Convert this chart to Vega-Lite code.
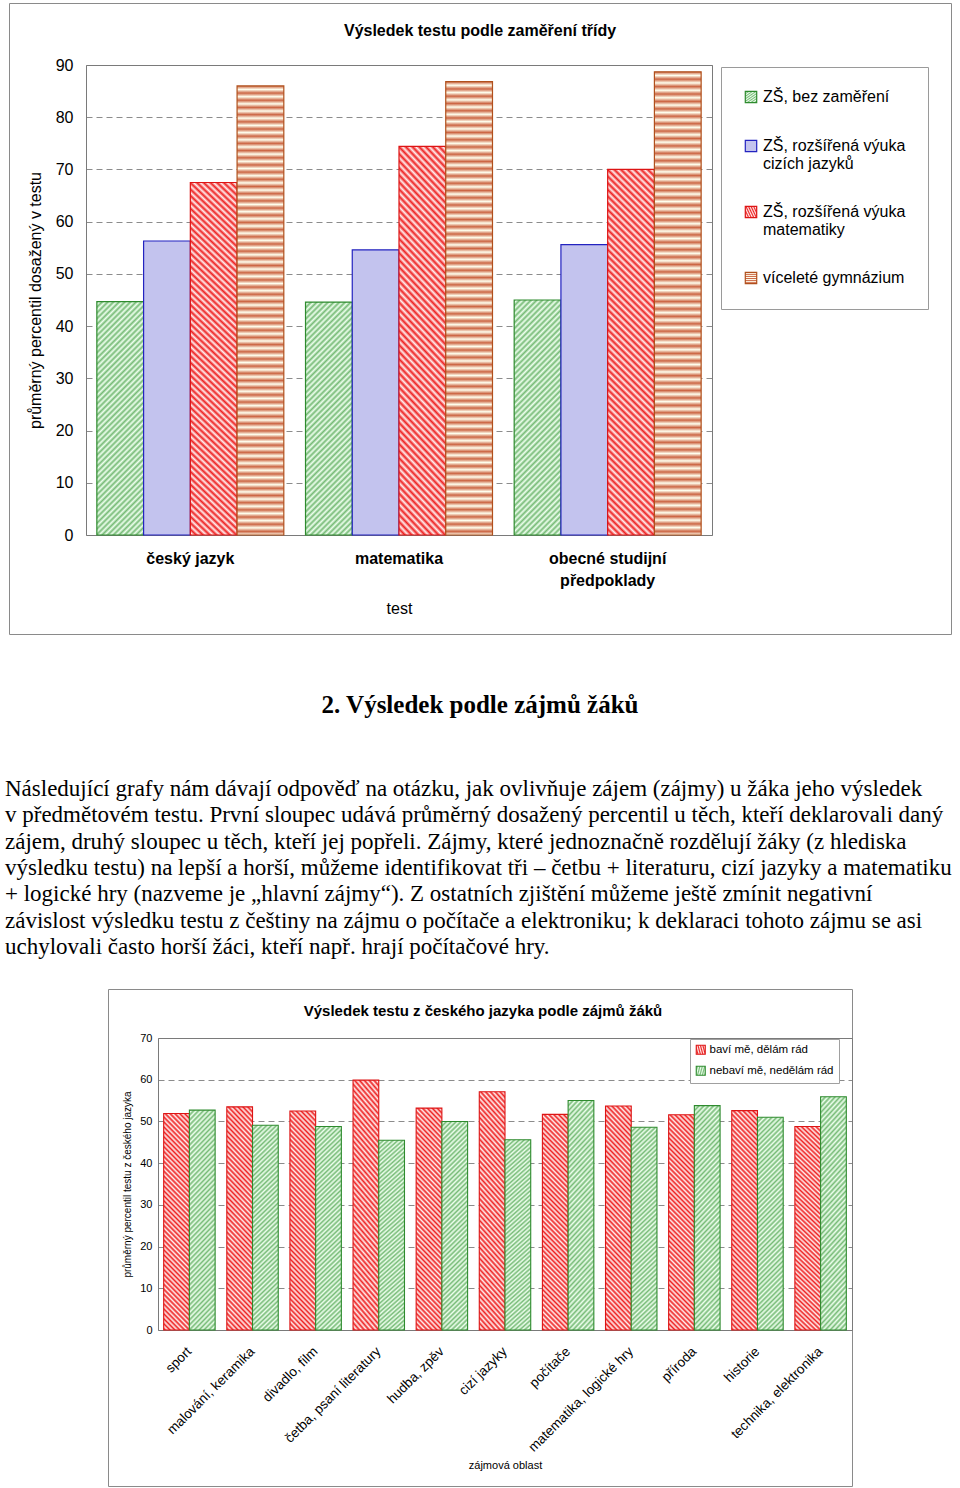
{
  "$schema": "https://vega.github.io/schema/vega-lite/v6.json",
  "background": "white",
  "padding": {"top": 2, "left": 0, "right": 0, "bottom": 3},
  "spacing": 29,
  "center": true,
  "bounds": "flush",
  "params": [
    {"name": "stG", "expr": "[{offset:0,color:'#7b7'},{offset:0.01,color:'#efe'},{offset:0.02,color:'#7b7'},{offset:0.03,color:'#efe'},{offset:0.04,color:'#7b7'},{offset:0.05,color:'#efe'},{offset:0.06,color:'#7b7'},{offset:0.07,color:'#efe'},{offset:0.08,color:'#7b7'},{offset:0.09,color:'#efe'},{offset:0.1,color:'#7b7'},{offset:0.11,color:'#efe'},{offset:0.12,color:'#7b7'},{offset:0.13,color:'#efe'},{offset:0.14,color:'#7b7'},{offset:0.15,color:'#efe'},{offset:0.16,color:'#7b7'},{offset:0.17,color:'#efe'},{offset:0.18,color:'#7b7'},{offset:0.19,color:'#efe'},{offset:0.2,color:'#7b7'},{offset:0.21,color:'#efe'},{offset:0.22,color:'#7b7'},{offset:0.23,color:'#efe'},{offset:0.24,color:'#7b7'},{offset:0.25,color:'#efe'},{offset:0.26,color:'#7b7'},{offset:0.27,color:'#efe'},{offset:0.28,color:'#7b7'},{offset:0.29,color:'#efe'},{offset:0.3,color:'#7b7'},{offset:0.31,color:'#efe'},{offset:0.32,color:'#7b7'},{offset:0.33,color:'#efe'},{offset:0.34,color:'#7b7'},{offset:0.35,color:'#efe'},{offset:0.36,color:'#7b7'},{offset:0.37,color:'#efe'},{offset:0.38,color:'#7b7'},{offset:0.39,color:'#efe'},{offset:0.4,color:'#7b7'},{offset:0.41,color:'#efe'},{offset:0.42,color:'#7b7'},{offset:0.43,color:'#efe'},{offset:0.44,color:'#7b7'},{offset:0.45,color:'#efe'},{offset:0.46,color:'#7b7'},{offset:0.47,color:'#efe'},{offset:0.48,color:'#7b7'},{offset:0.49,color:'#efe'},{offset:0.5,color:'#7b7'},{offset:0.51,color:'#efe'},{offset:0.52,color:'#7b7'},{offset:0.53,color:'#efe'},{offset:0.54,color:'#7b7'},{offset:0.55,color:'#efe'},{offset:0.56,color:'#7b7'},{offset:0.57,color:'#efe'},{offset:0.58,color:'#7b7'},{offset:0.59,color:'#efe'},{offset:0.6,color:'#7b7'},{offset:0.61,color:'#efe'},{offset:0.62,color:'#7b7'},{offset:0.63,color:'#efe'},{offset:0.64,color:'#7b7'},{offset:0.65,color:'#efe'},{offset:0.66,color:'#7b7'},{offset:0.67,color:'#efe'},{offset:0.68,color:'#7b7'},{offset:0.69,color:'#efe'},{offset:0.7,color:'#7b7'},{offset:0.71,color:'#efe'},{offset:0.72,color:'#7b7'},{offset:0.73,color:'#efe'},{offset:0.74,color:'#7b7'},{offset:0.75,color:'#efe'},{offset:0.76,color:'#7b7'},{offset:0.77,color:'#efe'},{offset:0.78,color:'#7b7'},{offset:0.79,color:'#efe'},{offset:0.8,color:'#7b7'},{offset:0.81,color:'#efe'},{offset:0.82,color:'#7b7'},{offset:0.83,color:'#efe'},{offset:0.84,color:'#7b7'},{offset:0.85,color:'#efe'},{offset:0.86,color:'#7b7'},{offset:0.87,color:'#efe'},{offset:0.88,color:'#7b7'},{offset:0.89,color:'#efe'},{offset:0.9,color:'#7b7'},{offset:0.91,color:'#efe'},{offset:0.92,color:'#7b7'},{offset:0.93,color:'#efe'},{offset:0.94,color:'#7b7'},{offset:0.95,color:'#efe'},{offset:0.96,color:'#7b7'},{offset:0.97,color:'#efe'},{offset:0.98,color:'#7b7'},{offset:0.99,color:'#efe'},{offset:1,color:'#7b7'}]"},
    {"name": "stR", "expr": "[{offset:0,color:'#e22'},{offset:0.01,color:'#fee'},{offset:0.02,color:'#e22'},{offset:0.03,color:'#fee'},{offset:0.04,color:'#e22'},{offset:0.05,color:'#fee'},{offset:0.06,color:'#e22'},{offset:0.07,color:'#fee'},{offset:0.08,color:'#e22'},{offset:0.09,color:'#fee'},{offset:0.1,color:'#e22'},{offset:0.11,color:'#fee'},{offset:0.12,color:'#e22'},{offset:0.13,color:'#fee'},{offset:0.14,color:'#e22'},{offset:0.15,color:'#fee'},{offset:0.16,color:'#e22'},{offset:0.17,color:'#fee'},{offset:0.18,color:'#e22'},{offset:0.19,color:'#fee'},{offset:0.2,color:'#e22'},{offset:0.21,color:'#fee'},{offset:0.22,color:'#e22'},{offset:0.23,color:'#fee'},{offset:0.24,color:'#e22'},{offset:0.25,color:'#fee'},{offset:0.26,color:'#e22'},{offset:0.27,color:'#fee'},{offset:0.28,color:'#e22'},{offset:0.29,color:'#fee'},{offset:0.3,color:'#e22'},{offset:0.31,color:'#fee'},{offset:0.32,color:'#e22'},{offset:0.33,color:'#fee'},{offset:0.34,color:'#e22'},{offset:0.35,color:'#fee'},{offset:0.36,color:'#e22'},{offset:0.37,color:'#fee'},{offset:0.38,color:'#e22'},{offset:0.39,color:'#fee'},{offset:0.4,color:'#e22'},{offset:0.41,color:'#fee'},{offset:0.42,color:'#e22'},{offset:0.43,color:'#fee'},{offset:0.44,color:'#e22'},{offset:0.45,color:'#fee'},{offset:0.46,color:'#e22'},{offset:0.47,color:'#fee'},{offset:0.48,color:'#e22'},{offset:0.49,color:'#fee'},{offset:0.5,color:'#e22'},{offset:0.51,color:'#fee'},{offset:0.52,color:'#e22'},{offset:0.53,color:'#fee'},{offset:0.54,color:'#e22'},{offset:0.55,color:'#fee'},{offset:0.56,color:'#e22'},{offset:0.57,color:'#fee'},{offset:0.58,color:'#e22'},{offset:0.59,color:'#fee'},{offset:0.6,color:'#e22'},{offset:0.61,color:'#fee'},{offset:0.62,color:'#e22'},{offset:0.63,color:'#fee'},{offset:0.64,color:'#e22'},{offset:0.65,color:'#fee'},{offset:0.66,color:'#e22'},{offset:0.67,color:'#fee'},{offset:0.68,color:'#e22'},{offset:0.69,color:'#fee'},{offset:0.7,color:'#e22'},{offset:0.71,color:'#fee'},{offset:0.72,color:'#e22'},{offset:0.73,color:'#fee'},{offset:0.74,color:'#e22'},{offset:0.75,color:'#fee'},{offset:0.76,color:'#e22'},{offset:0.77,color:'#fee'},{offset:0.78,color:'#e22'},{offset:0.79,color:'#fee'},{offset:0.8,color:'#e22'},{offset:0.81,color:'#fee'},{offset:0.82,color:'#e22'},{offset:0.83,color:'#fee'},{offset:0.84,color:'#e22'},{offset:0.85,color:'#fee'},{offset:0.86,color:'#e22'},{offset:0.87,color:'#fee'},{offset:0.88,color:'#e22'},{offset:0.89,color:'#fee'},{offset:0.9,color:'#e22'},{offset:0.91,color:'#fee'},{offset:0.92,color:'#e22'},{offset:0.93,color:'#fee'},{offset:0.94,color:'#e22'},{offset:0.95,color:'#fee'},{offset:0.96,color:'#e22'},{offset:0.97,color:'#fee'},{offset:0.98,color:'#e22'},{offset:0.99,color:'#fee'},{offset:1,color:'#e22'}]"},
    {"name": "stR8", "expr": "[{offset:0,color:'#e22'},{offset:0.008,color:'#fee'},{offset:0.016,color:'#e22'},{offset:0.024,color:'#fee'},{offset:0.032,color:'#e22'},{offset:0.04,color:'#fee'},{offset:0.048,color:'#e22'},{offset:0.056,color:'#fee'},{offset:0.064,color:'#e22'},{offset:0.072,color:'#fee'},{offset:0.08,color:'#e22'},{offset:0.088,color:'#fee'},{offset:0.096,color:'#e22'},{offset:0.104,color:'#fee'},{offset:0.112,color:'#e22'},{offset:0.12,color:'#fee'},{offset:0.128,color:'#e22'},{offset:0.136,color:'#fee'},{offset:0.144,color:'#e22'},{offset:0.152,color:'#fee'},{offset:0.16,color:'#e22'},{offset:0.168,color:'#fee'},{offset:0.176,color:'#e22'},{offset:0.184,color:'#fee'},{offset:0.192,color:'#e22'},{offset:0.2,color:'#fee'},{offset:0.208,color:'#e22'},{offset:0.216,color:'#fee'},{offset:0.224,color:'#e22'},{offset:0.232,color:'#fee'},{offset:0.24,color:'#e22'},{offset:0.248,color:'#fee'},{offset:0.256,color:'#e22'},{offset:0.264,color:'#fee'},{offset:0.272,color:'#e22'},{offset:0.28,color:'#fee'},{offset:0.288,color:'#e22'},{offset:0.296,color:'#fee'},{offset:0.304,color:'#e22'},{offset:0.312,color:'#fee'},{offset:0.32,color:'#e22'},{offset:0.328,color:'#fee'},{offset:0.336,color:'#e22'},{offset:0.344,color:'#fee'},{offset:0.352,color:'#e22'},{offset:0.36,color:'#fee'},{offset:0.368,color:'#e22'},{offset:0.376,color:'#fee'},{offset:0.384,color:'#e22'},{offset:0.392,color:'#fee'},{offset:0.4,color:'#e22'},{offset:0.408,color:'#fee'},{offset:0.416,color:'#e22'},{offset:0.424,color:'#fee'},{offset:0.432,color:'#e22'},{offset:0.44,color:'#fee'},{offset:0.448,color:'#e22'},{offset:0.456,color:'#fee'},{offset:0.464,color:'#e22'},{offset:0.472,color:'#fee'},{offset:0.48,color:'#e22'},{offset:0.488,color:'#fee'},{offset:0.496,color:'#e22'},{offset:0.504,color:'#fee'},{offset:0.512,color:'#e22'},{offset:0.52,color:'#fee'},{offset:0.528,color:'#e22'},{offset:0.536,color:'#fee'},{offset:0.544,color:'#e22'},{offset:0.552,color:'#fee'},{offset:0.56,color:'#e22'},{offset:0.568,color:'#fee'},{offset:0.576,color:'#e22'},{offset:0.584,color:'#fee'},{offset:0.592,color:'#e22'},{offset:0.6,color:'#fee'},{offset:0.608,color:'#e22'},{offset:0.616,color:'#fee'},{offset:0.624,color:'#e22'},{offset:0.632,color:'#fee'},{offset:0.64,color:'#e22'},{offset:0.648,color:'#fee'},{offset:0.656,color:'#e22'},{offset:0.664,color:'#fee'},{offset:0.672,color:'#e22'},{offset:0.68,color:'#fee'},{offset:0.688,color:'#e22'},{offset:0.696,color:'#fee'},{offset:0.704,color:'#e22'},{offset:0.712,color:'#fee'},{offset:0.72,color:'#e22'},{offset:0.728,color:'#fee'},{offset:0.736,color:'#e22'},{offset:0.744,color:'#fee'},{offset:0.752,color:'#e22'},{offset:0.76,color:'#fee'},{offset:0.768,color:'#e22'},{offset:0.776,color:'#fee'},{offset:0.784,color:'#e22'},{offset:0.792,color:'#fee'},{offset:0.8,color:'#e22'},{offset:0.808,color:'#fee'},{offset:0.816,color:'#e22'},{offset:0.824,color:'#fee'},{offset:0.832,color:'#e22'},{offset:0.84,color:'#fee'},{offset:0.848,color:'#e22'},{offset:0.856,color:'#fee'},{offset:0.864,color:'#e22'},{offset:0.872,color:'#fee'},{offset:0.88,color:'#e22'},{offset:0.888,color:'#fee'},{offset:0.896,color:'#e22'},{offset:0.904,color:'#fee'},{offset:0.912,color:'#e22'},{offset:0.92,color:'#fee'},{offset:0.928,color:'#e22'},{offset:0.936,color:'#fee'},{offset:0.944,color:'#e22'},{offset:0.952,color:'#fee'},{offset:0.96,color:'#e22'},{offset:0.968,color:'#fee'},{offset:0.976,color:'#e22'},{offset:0.984,color:'#fee'},{offset:0.992,color:'#e22'},{offset:1,color:'#fee'}]"},
    {"name": "stB8", "expr": "[{offset:0,color:'#c64'},{offset:0.008,color:'#ffe'},{offset:0.016,color:'#c64'},{offset:0.024,color:'#ffe'},{offset:0.032,color:'#c64'},{offset:0.04,color:'#ffe'},{offset:0.048,color:'#c64'},{offset:0.056,color:'#ffe'},{offset:0.064,color:'#c64'},{offset:0.072,color:'#ffe'},{offset:0.08,color:'#c64'},{offset:0.088,color:'#ffe'},{offset:0.096,color:'#c64'},{offset:0.104,color:'#ffe'},{offset:0.112,color:'#c64'},{offset:0.12,color:'#ffe'},{offset:0.128,color:'#c64'},{offset:0.136,color:'#ffe'},{offset:0.144,color:'#c64'},{offset:0.152,color:'#ffe'},{offset:0.16,color:'#c64'},{offset:0.168,color:'#ffe'},{offset:0.176,color:'#c64'},{offset:0.184,color:'#ffe'},{offset:0.192,color:'#c64'},{offset:0.2,color:'#ffe'},{offset:0.208,color:'#c64'},{offset:0.216,color:'#ffe'},{offset:0.224,color:'#c64'},{offset:0.232,color:'#ffe'},{offset:0.24,color:'#c64'},{offset:0.248,color:'#ffe'},{offset:0.256,color:'#c64'},{offset:0.264,color:'#ffe'},{offset:0.272,color:'#c64'},{offset:0.28,color:'#ffe'},{offset:0.288,color:'#c64'},{offset:0.296,color:'#ffe'},{offset:0.304,color:'#c64'},{offset:0.312,color:'#ffe'},{offset:0.32,color:'#c64'},{offset:0.328,color:'#ffe'},{offset:0.336,color:'#c64'},{offset:0.344,color:'#ffe'},{offset:0.352,color:'#c64'},{offset:0.36,color:'#ffe'},{offset:0.368,color:'#c64'},{offset:0.376,color:'#ffe'},{offset:0.384,color:'#c64'},{offset:0.392,color:'#ffe'},{offset:0.4,color:'#c64'},{offset:0.408,color:'#ffe'},{offset:0.416,color:'#c64'},{offset:0.424,color:'#ffe'},{offset:0.432,color:'#c64'},{offset:0.44,color:'#ffe'},{offset:0.448,color:'#c64'},{offset:0.456,color:'#ffe'},{offset:0.464,color:'#c64'},{offset:0.472,color:'#ffe'},{offset:0.48,color:'#c64'},{offset:0.488,color:'#ffe'},{offset:0.496,color:'#c64'},{offset:0.504,color:'#ffe'},{offset:0.512,color:'#c64'},{offset:0.52,color:'#ffe'},{offset:0.528,color:'#c64'},{offset:0.536,color:'#ffe'},{offset:0.544,color:'#c64'},{offset:0.552,color:'#ffe'},{offset:0.56,color:'#c64'},{offset:0.568,color:'#ffe'},{offset:0.576,color:'#c64'},{offset:0.584,color:'#ffe'},{offset:0.592,color:'#c64'},{offset:0.6,color:'#ffe'},{offset:0.608,color:'#c64'},{offset:0.616,color:'#ffe'},{offset:0.624,color:'#c64'},{offset:0.632,color:'#ffe'},{offset:0.64,color:'#c64'},{offset:0.648,color:'#ffe'},{offset:0.656,color:'#c64'},{offset:0.664,color:'#ffe'},{offset:0.672,color:'#c64'},{offset:0.68,color:'#ffe'},{offset:0.688,color:'#c64'},{offset:0.696,color:'#ffe'},{offset:0.704,color:'#c64'},{offset:0.712,color:'#ffe'},{offset:0.72,color:'#c64'},{offset:0.728,color:'#ffe'},{offset:0.736,color:'#c64'},{offset:0.744,color:'#ffe'},{offset:0.752,color:'#c64'},{offset:0.76,color:'#ffe'},{offset:0.768,color:'#c64'},{offset:0.776,color:'#ffe'},{offset:0.784,color:'#c64'},{offset:0.792,color:'#ffe'},{offset:0.8,color:'#c64'},{offset:0.808,color:'#ffe'},{offset:0.816,color:'#c64'},{offset:0.824,color:'#ffe'},{offset:0.832,color:'#c64'},{offset:0.84,color:'#ffe'},{offset:0.848,color:'#c64'},{offset:0.856,color:'#ffe'},{offset:0.864,color:'#c64'},{offset:0.872,color:'#ffe'},{offset:0.88,color:'#c64'},{offset:0.888,color:'#ffe'},{offset:0.896,color:'#c64'},{offset:0.904,color:'#ffe'},{offset:0.912,color:'#c64'},{offset:0.92,color:'#ffe'},{offset:0.928,color:'#c64'},{offset:0.936,color:'#ffe'},{offset:0.944,color:'#c64'},{offset:0.952,color:'#ffe'},{offset:0.96,color:'#c64'},{offset:0.968,color:'#ffe'},{offset:0.976,color:'#c64'},{offset:0.984,color:'#ffe'},{offset:0.992,color:'#c64'},{offset:1,color:'#ffe'}]"}
  ],
  "resolve": {
    "scale": {"x": "independent", "y": "independent", "xOffset": "independent", "fill": "independent", "stroke": "independent"},
    "legend": {"fill": "independent", "stroke": "independent"}
  },
  "config": {"font": "Liberation Sans", "view": {"stroke": null}},
  "vconcat": [
    {
      "width": 942,
      "height": 631,
      "view": {"stroke": "#8a8a8a", "strokeWidth": 1, "fill": "white"},
      "title": {"text": "Výsledek testu podle zaměření třídy", "font": "Liberation Sans", "fontSize": 16, "fontWeight": "bold", "color": "black", "anchor": "middle", "frame": "group", "baseline": "middle", "offset": -44},
      "data": {"values": [
        {"test": "český jazyk", "skupina": "ZŠ, bez zaměření", "percentil": 44.7},
        {"test": "český jazyk", "skupina": "ZŠ, rozšířená výuka cizích jazyků", "percentil": 56.3},
        {"test": "český jazyk", "skupina": "ZŠ, rozšířená výuka matematiky", "percentil": 67.5},
        {"test": "český jazyk", "skupina": "víceleté gymnázium", "percentil": 86.0},
        {"test": "matematika", "skupina": "ZŠ, bez zaměření", "percentil": 44.6},
        {"test": "matematika", "skupina": "ZŠ, rozšířená výuka cizích jazyků", "percentil": 54.6},
        {"test": "matematika", "skupina": "ZŠ, rozšířená výuka matematiky", "percentil": 74.4},
        {"test": "matematika", "skupina": "víceleté gymnázium", "percentil": 86.8},
        {"test": "obecné studijní předpoklady", "skupina": "ZŠ, bez zaměření", "percentil": 45.0},
        {"test": "obecné studijní předpoklady", "skupina": "ZŠ, rozšířená výuka cizích jazyků", "percentil": 55.6},
        {"test": "obecné studijní předpoklady", "skupina": "ZŠ, rozšířená výuka matematiky", "percentil": 70.0},
        {"test": "obecné studijní předpoklady", "skupina": "víceleté gymnázium", "percentil": 88.7}
      ]},
      "layer": [
        {
          "mark": {"type": "bar", "strokeWidth": 1.2},
          "encoding": {
            "x": {"field": "test", "type": "nominal", "sort": ["český jazyk", "matematika", "obecné studijní předpoklady"],
              "scale": {"range": [77, 703], "paddingInner": 0.104, "paddingOuter": 0.052},
              "axis": {"orient": "bottom", "offset": -99, "domain": true, "domainColor": "#7a7a7a", "ticks": false, "grid": false, "labelAngle": 0, "labelPadding": 15, "labelFont": "Liberation Sans", "labelFontSize": 16, "labelFontWeight": "bold", "labelColor": "black", "labelLineHeight": 22, "labelExpr": "datum.label == 'obecné studijní předpoklady' ? ['obecné studijní', 'předpoklady'] : datum.label", "title": "test", "titleFont": "Liberation Sans", "titleFontSize": 16, "titleFontWeight": "normal", "titleColor": "black", "titlePadding": 12}},
            "xOffset": {"field": "skupina", "type": "nominal", "sort": ["ZŠ, bez zaměření", "ZŠ, rozšířená výuka cizích jazyků", "ZŠ, rozšířená výuka matematiky", "víceleté gymnázium"]},
            "y": {"field": "percentil", "type": "quantitative",
              "scale": {"domain": [0, 90], "range": [532, 62], "nice": false},
              "axis": {"orient": "left", "offset": -77, "values": [0, 10, 20, 30, 40, 50, 60, 70, 80, 90], "grid": true, "gridDash": [6, 4], "gridColor": "#8c8c8c", "domain": true, "domainColor": "#7a7a7a", "ticks": false, "labelPadding": 13, "labelFont": "Liberation Sans", "labelFontSize": 16, "labelColor": "black", "title": "průměrný percentil dosažený v testu", "titleFont": "Liberation Sans", "titleFontSize": 16, "titleFontWeight": "normal", "titleColor": "black", "titlePadding": 12}},
            "fill": {"field": "skupina", "type": "nominal",
              "scale": {"domain": ["ZŠ, bez zaměření", "ZŠ, rozšířená výuka cizích jazyků", "ZŠ, rozšířená výuka matematiky", "víceleté gymnázium"],
                "range": [
                  {"expr": "{gradient:'linear',x1:0,y1:0,x2:0.235,y2:1.17,stops:stG}"},
                  "#c3c3ee",
                  {"expr": "{gradient:'linear',x1:1,y1:0,x2:0.858,y2:1.12,stops:stR8}"},
                  {"expr": "{gradient:'linear',x1:0,y1:0,x2:0,y2:1,stops:stB8}"}
                ]},
              "legend": {"title": null, "orient": "none", "legendX": 712, "legendY": 64, "padding": 22, "strokeColor": "#9a9a9a", "fillColor": "white", "labelFont": "Liberation Sans", "labelFontSize": 16, "labelColor": "black", "labelLineHeight": 20, "symbolType": "square", "symbolSize": 130, "symbolStrokeWidth": 1.2, "rowPadding": 31, "labelOffset": 4, "labelLimit": 300, "labelExpr": "datum.label == 'ZŠ, rozšířená výuka cizích jazyků' ? ['ZŠ, rozšířená výuka', 'cizích jazyků'] : datum.label == 'ZŠ, rozšířená výuka matematiky' ? ['ZŠ, rozšířená výuka', 'matematiky'] : datum.label"}},
            "stroke": {"field": "skupina", "type": "nominal",
              "scale": {"domain": ["ZŠ, bez zaměření", "ZŠ, rozšířená výuka cizích jazyků", "ZŠ, rozšířená výuka matematiky", "víceleté gymnázium"], "range": ["#2e8b2e", "#2323c0", "#dd1414", "#b0501c"]},
              "legend": {"title": null, "orient": "none", "legendX": 712, "legendY": 64, "padding": 22, "strokeColor": "#9a9a9a", "fillColor": "white", "labelFont": "Liberation Sans", "labelFontSize": 16, "labelColor": "black", "labelLineHeight": 20, "symbolType": "square", "symbolSize": 130, "symbolStrokeWidth": 1.2, "rowPadding": 31, "labelOffset": 4, "labelLimit": 300, "labelExpr": "datum.label == 'ZŠ, rozšířená výuka cizích jazyků' ? ['ZŠ, rozšířená výuka', 'cizích jazyků'] : datum.label == 'ZŠ, rozšířená výuka matematiky' ? ['ZŠ, rozšířená výuka', 'matematiky'] : datum.label"}}
          }
        },
        {
          "mark": {"type": "bar", "opacity": 0},
          "encoding": {
            "x": {"field": "test", "type": "nominal", "sort": ["český jazyk", "matematika", "obecné studijní předpoklady"],
              "axis": {"orient": "top", "offset": -62, "domain": true, "domainColor": "#7a7a7a", "labels": false, "ticks": false, "grid": false, "title": null}},
            "xOffset": {"field": "skupina", "type": "nominal", "sort": ["ZŠ, bez zaměření", "ZŠ, rozšířená výuka cizích jazyků", "ZŠ, rozšířená výuka matematiky", "víceleté gymnázium"]},
            "y": {"field": "percentil", "type": "quantitative",
              "axis": {"orient": "right", "offset": -239, "domain": true, "domainColor": "#7a7a7a", "labels": false, "ticks": false, "grid": false, "title": null}}
          }
        }
      ]
    },
    {
      "width": 960,
      "height": 84,
      "view": {"stroke": null},
      "data": {"values": [{"nadpis": "2. Výsledek podle zájmů žáků"}]},
      "mark": {"type": "text", "font": "Liberation Serif", "fontSize": 25, "fontWeight": "bold", "color": "black", "baseline": "middle", "align": "center"},
      "encoding": {"text": {"field": "nadpis"}}
    },
    {
      "width": 960,
      "height": 184,
      "view": {"stroke": null},
      "data": {"values": [
        {"radek": 1, "text": "Následující grafy nám dávají odpověď na otázku, jak ovlivňuje zájem (zájmy) u žáka jeho výsledek"},
        {"radek": 2, "text": "v předmětovém testu. První sloupec udává průměrný dosažený percentil u těch, kteří deklarovali daný"},
        {"radek": 3, "text": "zájem, druhý sloupec u těch, kteří jej popřeli. Zájmy, které jednoznačně rozdělují žáky (z hlediska"},
        {"radek": 4, "text": "výsledku testu) na lepší a horší, můžeme identifikovat tři – četbu + literaturu, cizí jazyky a matematiku"},
        {"radek": 5, "text": "+ logické hry (nazveme je „hlavní zájmy“). Z ostatních zjištění můžeme ještě zmínit negativní"},
        {"radek": 6, "text": "závislost výsledku testu z češtiny na zájmu o počítače a elektroniku; k deklaraci tohoto zájmu se asi"},
        {"radek": 7, "text": "uchylovali často horší žáci, kteří např. hrají počítačové hry."}
      ]},
      "mark": {"type": "text", "font": "Liberation Serif", "fontSize": 23, "align": "left", "baseline": "middle", "color": "black"},
      "encoding": {
        "y": {"field": "radek", "type": "ordinal", "scale": {"type": "point", "padding": 0.5}, "axis": null},
        "x": {"datum": 0, "type": "quantitative", "scale": {"domain": [0, 1], "range": [5, 955]}, "axis": null},
        "text": {"field": "text"}
      }
    },
    {
      "width": 744,
      "height": 497,
      "view": {"stroke": "#8a8a8a", "strokeWidth": 1, "fill": "white"},
      "title": {"text": "Výsledek testu z českého jazyka podle zájmů žáků", "font": "Liberation Sans", "fontSize": 15, "fontWeight": "bold", "color": "black", "anchor": "middle", "frame": "group", "baseline": "middle", "offset": -37, "dx": 3},
      "data": {"values": [
        {"oblast": "sport", "vztah": "baví mě, dělám rád", "percentil": 51.9},
        {"oblast": "sport", "vztah": "nebaví mě, nedělám rád", "percentil": 52.7},
        {"oblast": "malování, keramika", "vztah": "baví mě, dělám rád", "percentil": 53.5},
        {"oblast": "malování, keramika", "vztah": "nebaví mě, nedělám rád", "percentil": 49.1},
        {"oblast": "divadlo, film", "vztah": "baví mě, dělám rád", "percentil": 52.5},
        {"oblast": "divadlo, film", "vztah": "nebaví mě, nedělám rád", "percentil": 48.8},
        {"oblast": "četba, psaní literatury", "vztah": "baví mě, dělám rád", "percentil": 59.9},
        {"oblast": "četba, psaní literatury", "vztah": "nebaví mě, nedělám rád", "percentil": 45.5},
        {"oblast": "hudba, zpěv", "vztah": "baví mě, dělám rád", "percentil": 53.2},
        {"oblast": "hudba, zpěv", "vztah": "nebaví mě, nedělám rád", "percentil": 50.0},
        {"oblast": "cizí jazyky", "vztah": "baví mě, dělám rád", "percentil": 57.1},
        {"oblast": "cizí jazyky", "vztah": "nebaví mě, nedělám rád", "percentil": 45.6},
        {"oblast": "počítače", "vztah": "baví mě, dělám rád", "percentil": 51.7},
        {"oblast": "počítače", "vztah": "nebaví mě, nedělám rád", "percentil": 55.0},
        {"oblast": "matematika, logické hry", "vztah": "baví mě, dělám rád", "percentil": 53.7},
        {"oblast": "matematika, logické hry", "vztah": "nebaví mě, nedělám rád", "percentil": 48.6},
        {"oblast": "příroda", "vztah": "baví mě, dělám rád", "percentil": 51.6},
        {"oblast": "příroda", "vztah": "nebaví mě, nedělám rád", "percentil": 53.8},
        {"oblast": "historie", "vztah": "baví mě, dělám rád", "percentil": 52.6},
        {"oblast": "historie", "vztah": "nebaví mě, nedělám rád", "percentil": 51.0},
        {"oblast": "technika, elektronika", "vztah": "baví mě, dělám rád", "percentil": 48.8},
        {"oblast": "technika, elektronika", "vztah": "nebaví mě, nedělám rád", "percentil": 55.9}
      ]},
      "layer": [
        {
          "mark": {"type": "bar", "strokeWidth": 1.1},
          "encoding": {
            "x": {"field": "oblast", "type": "nominal",
              "sort": ["sport", "malování, keramika", "divadlo, film", "četba, psaní literatury", "hudba, zpěv", "cizí jazyky", "počítače", "matematika, logické hry", "příroda", "historie", "technika, elektronika"],
              "scale": {"range": [50, 744], "paddingInner": 0.185, "paddingOuter": 0.09},
              "axis": {"orient": "bottom", "offset": -156, "domain": true, "domainColor": "#7a7a7a", "ticks": false, "grid": false, "labelAngle": -45, "labelAlign": "right", "labelBaseline": "middle", "labelPadding": 19, "labelFont": "Liberation Sans", "labelFontSize": 13.5, "labelColor": "black", "labelLimit": 300, "title": "zájmová oblast", "titleFont": "Liberation Sans", "titleFontSize": 11, "titleFontWeight": "normal", "titleColor": "black", "titlePadding": 6}},
            "xOffset": {"field": "vztah", "type": "nominal", "sort": ["baví mě, dělám rád", "nebaví mě, nedělám rád"]},
            "y": {"field": "percentil", "type": "quantitative",
              "scale": {"domain": [0, 70], "range": [341, 49], "nice": false},
              "axis": {"orient": "left", "offset": -50, "values": [0, 10, 20, 30, 40, 50, 60, 70], "grid": true, "gridDash": [6, 4], "gridColor": "#8c8c8c", "domain": true, "domainColor": "#7a7a7a", "ticks": false, "labelPadding": 6, "labelFont": "Liberation Sans", "labelFontSize": 11, "labelColor": "black", "title": "průměrný percentil testu z českého jazyka", "titleFont": "Liberation Sans", "titleFontSize": 10, "titleFontWeight": "normal", "titleColor": "black", "titlePadding": 7}},
            "fill": {"field": "vztah", "type": "nominal",
              "scale": {"domain": ["baví mě, dělám rád", "nebaví mě, nedělám rád"],
                "range": [
                  {"expr": "{gradient:'linear',x1:1,y1:0,x2:0.865,y2:1.12,stops:stR}"},
                  {"expr": "{gradient:'linear',x1:0,y1:0,x2:0.135,y2:1.12,stops:stG}"}
                ]},
              "legend": {"title": null, "orient": "none", "legendX": 582, "legendY": 50, "padding": 5, "strokeColor": "#a0a0a0", "fillColor": "white", "labelFont": "Liberation Sans", "labelFontSize": 11.5, "labelColor": "black", "symbolType": "square", "symbolSize": 81, "symbolStrokeWidth": 1.1, "rowPadding": 7, "labelOffset": 3, "labelLimit": 300}},
            "stroke": {"field": "vztah", "type": "nominal",
              "scale": {"domain": ["baví mě, dělám rád", "nebaví mě, nedělám rád"], "range": ["#dd1414", "#2e8b2e"]},
              "legend": {"title": null, "orient": "none", "legendX": 582, "legendY": 50, "padding": 5, "strokeColor": "#a0a0a0", "fillColor": "white", "labelFont": "Liberation Sans", "labelFontSize": 11.5, "labelColor": "black", "symbolType": "square", "symbolSize": 81, "symbolStrokeWidth": 1.1, "rowPadding": 7, "labelOffset": 3, "labelLimit": 300}}
          }
        },
        {
          "mark": {"type": "bar", "opacity": 0},
          "encoding": {
            "x": {"field": "oblast", "type": "nominal",
              "sort": ["sport", "malování, keramika", "divadlo, film", "četba, psaní literatury", "hudba, zpěv", "cizí jazyky", "počítače", "matematika, logické hry", "příroda", "historie", "technika, elektronika"],
              "axis": {"orient": "top", "offset": -49, "domain": true, "domainColor": "#7a7a7a", "labels": false, "ticks": false, "grid": false, "title": null}},
            "xOffset": {"field": "vztah", "type": "nominal", "sort": ["baví mě, dělám rád", "nebaví mě, nedělám rád"]},
            "y": {"field": "percentil", "type": "quantitative",
              "axis": {"orient": "right", "offset": 0, "domain": true, "domainColor": "#7a7a7a", "labels": false, "ticks": false, "grid": false, "title": null}}
          }
        }
      ]
    }
  ]
}
